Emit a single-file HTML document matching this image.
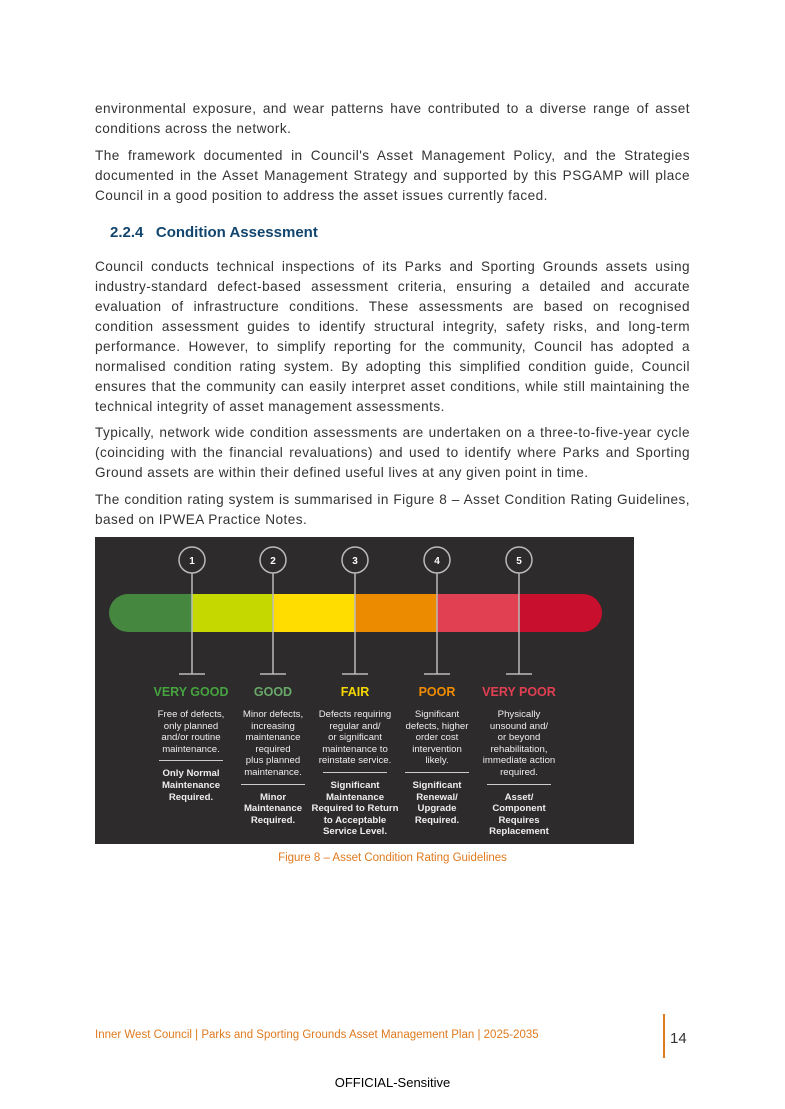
<!DOCTYPE html>
<html><head><meta charset="utf-8"><style>
body{margin:0;background:#fff;width:785px;height:1109px;position:relative;font-family:"Liberation Sans",sans-serif;overflow:hidden}
p{position:absolute;left:95px;width:595px;margin:0;font-size:13.6px;letter-spacing:0.45px;line-height:20px;color:#333;text-align:justify}
h3{position:absolute;left:110px;top:224px;margin:0;font-size:15px;color:#11456e;font-weight:bold}
.panel{position:absolute;left:95px;top:537px;width:539px;height:307px;background:#2d2b2c}
.lab{position:absolute;top:685px;font-weight:bold;font-size:12.5px;width:110px;text-align:center}
.col{position:absolute;top:709px;width:100px;text-align:center;font-size:9.6px;line-height:11.6px;color:#eee;white-space:nowrap}
.col b{display:block}
.col hr{border:0;border-top:1.5px solid #ccc;width:64px;margin:5px auto 7px}
</style></head><body>
<p style="top:99px">environmental exposure, and wear patterns have contributed to a diverse range of asset conditions across the network.</p>
<p style="top:146px">The framework documented in Council's Asset Management Policy, and the Strategies documented in the Asset Management Strategy and supported by this PSGAMP will place Council in a good position to address the asset issues currently faced.</p>
<h3>2.2.4&nbsp;&nbsp;&nbsp;Condition Assessment</h3>
<p style="top:257px">Council conducts technical inspections of its Parks and Sporting Grounds assets using industry-standard defect-based assessment criteria, ensuring a detailed and accurate evaluation of infrastructure conditions. These assessments are based on recognised condition assessment guides to identify structural integrity, safety risks, and long-term performance. However, to simplify reporting for the community, Council has adopted a normalised condition rating system. By adopting this simplified condition guide, Council ensures that the community can easily interpret asset conditions, while still maintaining the technical integrity of asset management assessments.</p>
<p style="top:423px">Typically, network wide condition assessments are undertaken on a three-to-five-year cycle (coinciding with the financial revaluations) and used to identify where Parks and Sporting Ground assets are within their defined useful lives at any given point in time.</p>
<p style="top:490px">The condition rating system is summarised in Figure 8 – Asset Condition Rating Guidelines, based on IPWEA Practice Notes.</p>
<div class="panel"></div>
<svg style="position:absolute;left:0;top:0" width="785" height="1109">
<defs><clipPath id="c"><rect x="109" y="594" width="493" height="38" rx="19"/></clipPath></defs>
<g clip-path="url(#c)">
<rect x="109" y="594" width="83" height="38" fill="#46873f"/>
<rect x="192" y="594" width="81" height="38" fill="#c5d800"/>
<rect x="273" y="594" width="82" height="38" fill="#ffdd00"/>
<rect x="355" y="594" width="82" height="38" fill="#ec8b00"/>
<rect x="437" y="594" width="82" height="38" fill="#e13f52"/>
<rect x="519" y="594" width="83" height="38" fill="#c8102e"/>
</g>
<g stroke="#bbb" stroke-width="1.5" fill="none">
<g id="t"><circle cx="192" cy="560" r="13"/><line x1="192" y1="573" x2="192" y2="674"/><line x1="179" y1="674" x2="205" y2="674"/></g>
<use href="#t" x="81"/><use href="#t" x="163"/><use href="#t" x="245"/><use href="#t" x="327"/>
</g>
<g fill="#fff" font-size="10" font-weight="bold" text-anchor="middle" font-family="Liberation Sans">
<text x="192" y="564">1</text><text x="273" y="564">2</text><text x="355" y="564">3</text><text x="437" y="564">4</text><text x="519" y="564">5</text></g>
</svg>
<div class="lab" style="left:136px;color:#46a33f">VERY GOOD</div>
<div class="lab" style="left:218px;color:#6aa86a">GOOD</div>
<div class="lab" style="left:300px;color:#f4d800">FAIR</div>
<div class="lab" style="left:382px;color:#f08c00">POOR</div>
<div class="lab" style="left:464px;color:#e13f52">VERY POOR</div>
<div class="col" style="left:141px">Free of defects,<br>only planned<br>and/or routine<br>maintenance.<hr><b>Only Normal<br>Maintenance<br>Required.</b></div>
<div class="col" style="left:223px">Minor defects,<br>increasing<br>maintenance<br>required<br>plus planned<br>maintenance.<hr><b>Minor<br>Maintenance<br>Required.</b></div>
<div class="col" style="left:305px">Defects requiring<br>regular and/<br>or significant<br>maintenance to<br>reinstate service.<hr><b>Significant<br>Maintenance<br>Required to Return<br>to Acceptable<br>Service Level.</b></div>
<div class="col" style="left:387px">Significant<br>defects, higher<br>order cost<br>intervention<br>likely.<hr><b>Significant<br>Renewal/<br>Upgrade<br>Required.</b></div>
<div class="col" style="left:469px">Physically<br>unsound and/<br>or beyond<br>rehabilitation,<br>immediate action<br>required.<hr><b>Asset/<br>Component<br>Requires<br>Replacement</b></div>
<div style="position:absolute;left:0;width:785px;top:852px;text-align:center;font-size:11.5px;color:#e07a1f">Figure 8 – Asset Condition Rating Guidelines</div>
<div style="position:absolute;left:95px;top:1029px;font-size:11.5px;color:#e07a1f">Inner West Council | Parks and Sporting Grounds Asset Management Plan | 2025-2035</div>
<div style="position:absolute;left:663px;top:1014px;width:2px;height:44px;background:#e07a1f"></div>
<div style="position:absolute;left:670px;top:1030px;font-size:15px;color:#333">14</div>
<div style="position:absolute;left:0;width:785px;top:1075px;text-align:center;font-size:13px;color:#000">OFFICIAL-Sensitive</div>
</body></html>
